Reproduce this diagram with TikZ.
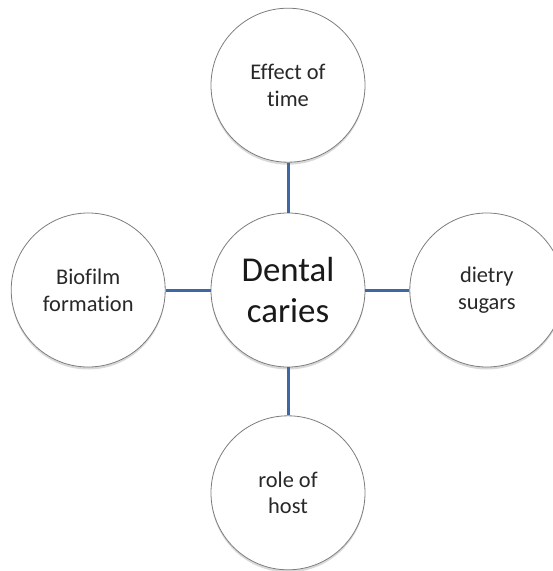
\documentclass[tikz,border=0pt]{standalone}
\usepackage{fontspec}
\setmainfont[Ligatures=NoCommon]{Carlito}
\usepackage{xcolor}
\usetikzlibrary{positioning,shadows}
\definecolor{linkblue}{RGB}{62,103,163}
\definecolor{rimgray}{RGB}{125,125,125}
\definecolor{textgray}{RGB}{40,40,40}

\begin{document}
\begin{tikzpicture}[
        x=1bp, y=1bp,
        node distance=48bp,
        topic/.style={circle, draw=rimgray, line width=0.8bp, fill=white, minimum size=154bp, inner sep=0pt, align=center, font=\fontsize{22.5}{27}\selectfont, text=textgray, drop shadow={shadow xshift=0bp, shadow yshift=-2.5bp, opacity=0.3}},
        hub/.style={topic, font=\fontsize{35}{41}\selectfont, text=black!90},
        line/.style={draw=linkblue, line width=3bp}
    ]
        \clip (0,0) rectangle (553,-571);
        \node[hub] (caries) at (288,-290) {Dental\\caries};
        \node[topic, above=50bp of caries] (time) {Effect of\\time};
        \node[topic, left=45bp of caries] (biofilm) {Biofilm\\formation};
        \node[topic, right=44bp of caries] (sugars) {dietry\\sugars};
        \node[topic, below=48bp of caries] (host) {role of\\host};
        \draw[line] (caries) -- (time);
        \draw[line] (caries) -- (biofilm);
        \draw[line] (caries) -- (sugars);
        \draw[line] (caries) -- (host);
    \end{tikzpicture}
\end{document}
